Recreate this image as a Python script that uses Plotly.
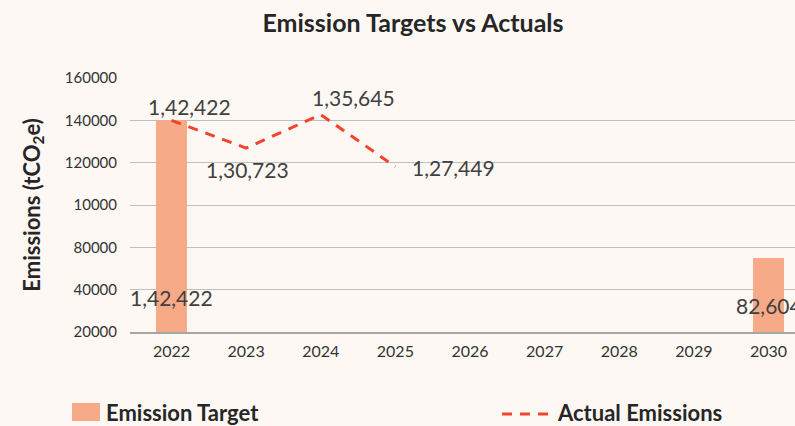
import plotly.graph_objects as go

# ---- data ----
years = [2022, 2023, 2024, 2025, 2026, 2027, 2028, 2029, 2030]
target_years = [2022, 2030]
target_values = [140000, 74800]          # bar heights as read on the chart's axis
target_labels = ["1,42,422", "82,604"]
actual_years = [2022, 2023, 2024, 2025]
actual_values = [140000, 126900, 142700, 118100]   # line positions as read on the chart's axis
actual_labels = ["1,42,422", "1,30,723", "1,35,645", "1,27,449"]
y_tickvals = [40000, 60000, 80000, 100000, 120000, 140000, 160000]
y_ticktext = ["20000", "40000", "80000", "10000", "120000", "140000", "160000"]

# ---- styles ----
BG = "#FDF8F4"
BAR = "#F7AA87"
LINE = "#F0452A"
TXT = "#404040"
DARK = "#262626"
FONT = "Lato"

W, H = 795, 426
L, R, T, B = 130, 0, 78, 94
pw, ph = W - L - R, H - T - B

fig = go.Figure()
fig.add_trace(go.Bar(
    x=target_years, y=target_values, name="Emission Target",
    marker=dict(color=BAR, line=dict(width=0)), width=0.41,
    showlegend=False, hoverinfo="skip",
))
fig.add_trace(go.Scatter(
    x=actual_years, y=actual_values, name="Actual Emissions", mode="lines",
    line=dict(color=LINE, width=3, dash="10px,8px"),
    showlegend=False, hoverinfo="skip",
))

# data labels
bar_shifts = [(0, 35), (0, 27)]
for xv, lab, (dx, dy) in zip(target_years, target_labels, bar_shifts):
    fig.add_annotation(x=xv, y=y_tickvals[0], text=lab, showarrow=False,
                       xshift=dx, yshift=dy, xanchor="center", yanchor="middle",
                       font=dict(family=FONT, size=21, color=TXT))
line_shifts = [(18, 14), (1, -21), (33, 17), (58, -1)]
for xv, yv, lab, (dx, dy) in zip(actual_years, actual_values, actual_labels, line_shifts):
    fig.add_annotation(x=xv, y=yv, text=lab, showarrow=False,
                       xshift=dx, yshift=dy, xanchor="center", yanchor="middle",
                       font=dict(family=FONT, size=21, color=TXT))

# manual legend (paper coords relative to plot area)
def px(xp):
    return (xp - L) / pw
def py(yp):
    return (H - B - yp) / ph

fig.add_shape(type="rect", xref="paper", yref="paper",
              x0=px(72), x1=px(100), y0=py(421), y1=py(403),
              fillcolor=BAR, line=dict(width=0))
fig.add_annotation(xref="paper", yref="paper", x=px(104), y=py(413),
                   text="<b>Emission Target</b>", showarrow=False,
                   xanchor="left", yanchor="middle",
                   font=dict(family=FONT, size=22, color=DARK))
fig.add_shape(type="line", xref="paper", yref="paper",
              x0=px(502), x1=px(552), y0=py(414), y1=py(414),
              line=dict(color=LINE, width=3, dash="10px,8px"))
fig.add_annotation(xref="paper", yref="paper", x=px(555), y=py(413),
                   text="<b>Actual Emissions</b>", showarrow=False,
                   xanchor="left", yanchor="middle",
                   font=dict(family=FONT, size=22, color=DARK))

x0 = 2022 - (171.5 - L) / 74.63
x1 = 2030 + (W - 768.5) / 74.63

fig.update_layout(
    width=W, height=H, autosize=False,
    margin=dict(l=L, r=R, t=T, b=B, pad=0),
    paper_bgcolor=BG, plot_bgcolor=BG,
    title=dict(text="<b>Emission Targets vs Actuals</b>", x=413 / W, xanchor="center",
               y=1 - 23 / H, yanchor="middle", xref="container", yref="container",
               font=dict(family=FONT, size=25, color=DARK)),
    xaxis=dict(range=[x0, x1], tickmode="array", tickvals=years,
               ticktext=[str(y) for y in years],
               showgrid=False, zeroline=False, showline=True,
               linecolor="#A6A6A6", linewidth=1.5,
               tickfont=dict(family=FONT, size=16, color="#333333"),
               ticks="", ticklabelstandoff=4),
    yaxis=dict(range=[40000, 160000], tickmode="array", tickvals=y_tickvals,
               ticktext=y_ticktext, showgrid=True, gridcolor="#BFBFBF", gridwidth=1,
               zeroline=False, showline=False,
               tickfont=dict(family=FONT, size=15, color="#333333"),
               ticks="", ticklabelstandoff=12,
               title=dict(text="<b>Emissions (tCO<sub>2</sub>e)</b>", standoff=18,
                          font=dict(family=FONT, size=22, color=DARK))),
    bargap=0,
)

fig.write_html("out.html", config={"displayModeBar": False},
               post_script="document.body.style.margin='0';document.body.style.overflow='hidden';")
